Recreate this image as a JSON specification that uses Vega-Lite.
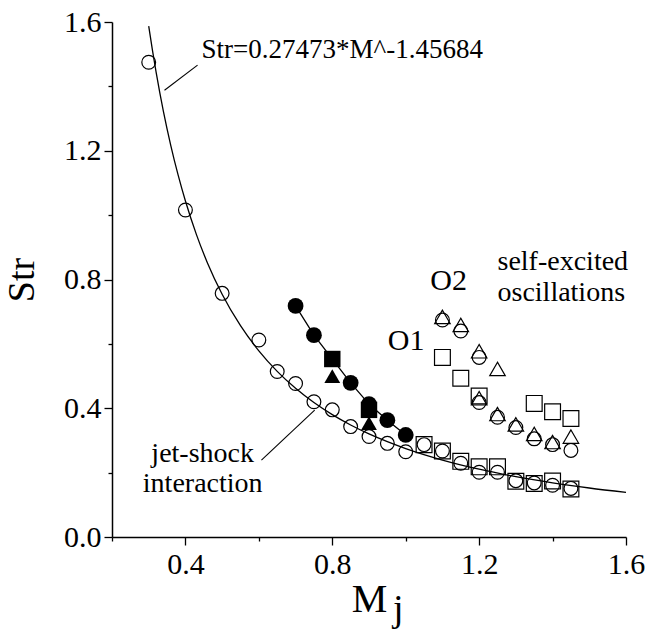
{
  "$schema": "https://vega.github.io/schema/vega-lite/v6.json",
  "autosize": "none",
  "padding": {"left": 112, "top": 22, "right": 22, "bottom": 94},
  "width": 514,
  "height": 515,
  "background": "white",
  "config": {"view": {"stroke": null}, "font": "Liberation Serif"},
  "datasets": {
    "fit": [
      {"M": 0.30, "Str": 1.5873}, {"M": 0.31, "Str": 1.5133}, {"M": 0.32, "Str": 1.4448},
      {"M": 0.33, "Str": 1.3815}, {"M": 0.34, "Str": 1.3227}, {"M": 0.36, "Str": 1.2170},
      {"M": 0.38, "Str": 1.1249}, {"M": 0.40, "Str": 1.0439}, {"M": 0.43, "Str": 0.9395},
      {"M": 0.46, "Str": 0.8516}, {"M": 0.50, "Str": 0.7542}, {"M": 0.55, "Str": 0.6564},
      {"M": 0.60, "Str": 0.5783}, {"M": 0.65, "Str": 0.5146}, {"M": 0.70, "Str": 0.4620},
      {"M": 0.75, "Str": 0.4178}, {"M": 0.80, "Str": 0.3803}, {"M": 0.85, "Str": 0.3481},
      {"M": 0.90, "Str": 0.3203}, {"M": 0.95, "Str": 0.2961}, {"M": 1.00, "Str": 0.2747},
      {"M": 1.10, "Str": 0.2391}, {"M": 1.20, "Str": 0.2106}, {"M": 1.30, "Str": 0.1875},
      {"M": 1.40, "Str": 0.1683}, {"M": 1.50, "Str": 0.1522}, {"M": 1.60, "Str": 0.1385}
    ],
    "openCircles": [
      {"M": 0.3, "Str": 1.475}, {"M": 0.4, "Str": 1.016}, {"M": 0.5, "Str": 0.757},
      {"M": 0.6, "Str": 0.612}, {"M": 0.65, "Str": 0.514}, {"M": 0.7, "Str": 0.477},
      {"M": 0.75, "Str": 0.42}, {"M": 0.8, "Str": 0.395}, {"M": 0.85, "Str": 0.343},
      {"M": 0.9, "Str": 0.312}, {"M": 0.95, "Str": 0.291}, {"M": 1.0, "Str": 0.265},
      {"M": 1.05, "Str": 0.287}, {"M": 1.1, "Str": 0.267}, {"M": 1.15, "Str": 0.229},
      {"M": 1.2, "Str": 0.201}, {"M": 1.25, "Str": 0.201}, {"M": 1.3, "Str": 0.175},
      {"M": 1.35, "Str": 0.168}, {"M": 1.4, "Str": 0.161}, {"M": 1.45, "Str": 0.151},
      {"M": 1.1, "Str": 0.674}, {"M": 1.15, "Str": 0.64}, {"M": 1.2, "Str": 0.558},
      {"M": 1.2, "Str": 0.418}, {"M": 1.25, "Str": 0.372}, {"M": 1.3, "Str": 0.34},
      {"M": 1.35, "Str": 0.305}, {"M": 1.4, "Str": 0.287}, {"M": 1.45, "Str": 0.269}
    ],
    "openSquares": [
      {"M": 1.05, "Str": 0.287}, {"M": 1.1, "Str": 0.267}, {"M": 1.15, "Str": 0.235},
      {"M": 1.2, "Str": 0.218}, {"M": 1.25, "Str": 0.218}, {"M": 1.3, "Str": 0.173},
      {"M": 1.35, "Str": 0.166}, {"M": 1.4, "Str": 0.174}, {"M": 1.45, "Str": 0.149},
      {"M": 1.1, "Str": 0.558}, {"M": 1.15, "Str": 0.493}, {"M": 1.2, "Str": 0.438},
      {"M": 1.35, "Str": 0.415}, {"M": 1.4, "Str": 0.389}, {"M": 1.45, "Str": 0.368}
    ],
    "openTriangles": [
      {"M": 1.1, "Str": 0.684}, {"M": 1.15, "Str": 0.659}, {"M": 1.2, "Str": 0.577},
      {"M": 1.25, "Str": 0.522}, {"M": 1.2, "Str": 0.431}, {"M": 1.25, "Str": 0.382},
      {"M": 1.3, "Str": 0.35}, {"M": 1.35, "Str": 0.32}, {"M": 1.4, "Str": 0.295},
      {"M": 1.45, "Str": 0.312}
    ],
    "filledCircles": [
      {"M": 0.7, "Str": 0.718}, {"M": 0.75, "Str": 0.627}, {"M": 0.85, "Str": 0.479},
      {"M": 0.9, "Str": 0.413}, {"M": 0.95, "Str": 0.363}, {"M": 1.0, "Str": 0.317}
    ],
    "filledSquares": [
      {"M": 0.8, "Str": 0.553}, {"M": 0.9, "Str": 0.395}
    ],
    "filledTriangles": [
      {"M": 0.8, "Str": 0.5}, {"M": 0.9, "Str": 0.354}
    ],
    "leaders": [
      {"M": 0.433, "Str": 1.466, "M2": 0.343, "Str2": 1.388},
      {"M": 0.607, "Str": 0.239, "M2": 0.752, "Str2": 0.394}
    ],
    "eqText": [
      {"M": 0.444, "Str": 1.488, "label": "Str=0.27473*M^-1.45684"}
    ],
    "leftText": [
      {"M": 1.25, "Str": 0.829, "label": "self-excited"},
      {"M": 1.25, "Str": 0.733, "label": "oscillations"}
    ],
    "centerText": [
      {"M": 0.447, "Str": 0.234, "label": "jet-shock"},
      {"M": 0.447, "Str": 0.141, "label": "interaction"}
    ],
    "oText": [
      {"M": 1.117, "Str": 0.767, "label": "O2"},
      {"M": 1.001, "Str": 0.581, "label": "O1"}
    ],
    "subText": [
      {"M": 0.98, "Str": -0.261, "label": "j"}
    ]
  },
  "encoding": {
    "x": {
      "field": "M", "type": "quantitative",
      "scale": {"domain": [0.2, 1.6], "nice": false, "zero": false},
      "axis": {
        "values": [0.2, 0.4, 0.6, 0.8, 1.0, 1.2, 1.4, 1.6],
        "title": "M", "grid": false,
        "domainColor": "black", "domainWidth": 1.5,
        "tickColor": "black", "tickWidth": 1.3,
        "tickSize": {"condition": {"test": "abs(datum.value/0.4-round(datum.value/0.4))<0.01", "value": 8}, "value": 4},
        "labelExpr": "abs(datum.value/0.4-round(datum.value/0.4))<0.01 ? format(datum.value,'.1f') : ''",
        "labelFont": "Liberation Serif", "labelFontSize": 30, "labelColor": "black",
        "labelPadding": 4, "labelFlush": false, "labelOverlap": false,
        "titleFont": "Liberation Serif", "titleFontSize": 40, "titleFontWeight": "normal",
        "titleColor": "black", "titlePadding": 0
      }
    },
    "y": {
      "field": "Str", "type": "quantitative",
      "scale": {"domain": [0, 1.6], "nice": false},
      "axis": {
        "values": [0, 0.2, 0.4, 0.6, 0.8, 1.0, 1.2, 1.4, 1.6],
        "title": "Str", "grid": false,
        "domainColor": "black", "domainWidth": 1.5,
        "tickColor": "black", "tickWidth": 1.3,
        "tickSize": {"condition": {"test": "abs(datum.value/0.4-round(datum.value/0.4))<0.01", "value": 8}, "value": 4},
        "labelExpr": "abs(datum.value/0.4-round(datum.value/0.4))<0.01 ? format(datum.value,'.1f') : ''",
        "labelFont": "Liberation Serif", "labelFontSize": 30, "labelColor": "black",
        "labelPadding": 3, "labelFlush": false, "labelOverlap": false,
        "titleFont": "Liberation Serif", "titleFontSize": 38, "titleFontWeight": "normal",
        "titleColor": "black", "titlePadding": 22
      }
    }
  },
  "layer": [
    {"data": {"name": "fit"}, "mark": {"type": "line", "color": "black", "strokeWidth": 1.3, "interpolate": "monotone"}, "encoding": {}},
    {"data": {"name": "filledCircles"}, "mark": {"type": "line", "color": "black", "strokeWidth": 1.3}, "encoding": {}},
    {"data": {"name": "openCircles"}, "mark": {"type": "point", "shape": "circle", "filled": false, "color": "black", "strokeWidth": 1.2, "size": 190, "opacity": 1}},
    {"data": {"name": "openSquares"}, "mark": {"type": "point", "shape": "square", "filled": false, "color": "black", "strokeWidth": 1.2, "size": 250, "opacity": 1}},
    {"data": {"name": "openTriangles"}, "mark": {"type": "point", "shape": "triangle-up", "filled": false, "color": "black", "strokeWidth": 1.2, "size": 240, "opacity": 1}},
    {"data": {"name": "filledCircles"}, "mark": {"type": "point", "shape": "circle", "filled": true, "color": "black", "size": 250, "opacity": 1}},
    {"data": {"name": "filledSquares"}, "mark": {"type": "point", "shape": "square", "filled": true, "color": "black", "size": 270, "opacity": 1}},
    {"data": {"name": "filledTriangles"}, "mark": {"type": "point", "shape": "triangle-up", "filled": true, "color": "black", "size": 250, "opacity": 1}},
    {"data": {"name": "leaders"}, "mark": {"type": "rule", "color": "black", "strokeWidth": 1.1}, "encoding": {"x2": {"field": "M2"}, "y2": {"field": "Str2"}}},
    {"data": {"name": "eqText"}, "mark": {"type": "text", "font": "Liberation Serif", "fontSize": 27, "align": "left", "baseline": "alphabetic", "color": "black"}, "encoding": {"text": {"field": "label"}}},
    {"data": {"name": "leftText"}, "mark": {"type": "text", "font": "Liberation Serif", "fontSize": 28, "align": "left", "baseline": "alphabetic", "color": "black"}, "encoding": {"text": {"field": "label"}}},
    {"data": {"name": "centerText"}, "mark": {"type": "text", "font": "Liberation Serif", "fontSize": 28, "align": "center", "baseline": "alphabetic", "color": "black"}, "encoding": {"text": {"field": "label"}}},
    {"data": {"name": "oText"}, "mark": {"type": "text", "font": "Liberation Serif", "fontSize": 30, "align": "center", "baseline": "alphabetic", "color": "black"}, "encoding": {"text": {"field": "label"}}},
    {"data": {"name": "subText"}, "mark": {"type": "text", "font": "Liberation Serif", "fontSize": 38, "align": "center", "baseline": "alphabetic", "color": "black"}, "encoding": {"text": {"field": "label"}}}
  ]
}
